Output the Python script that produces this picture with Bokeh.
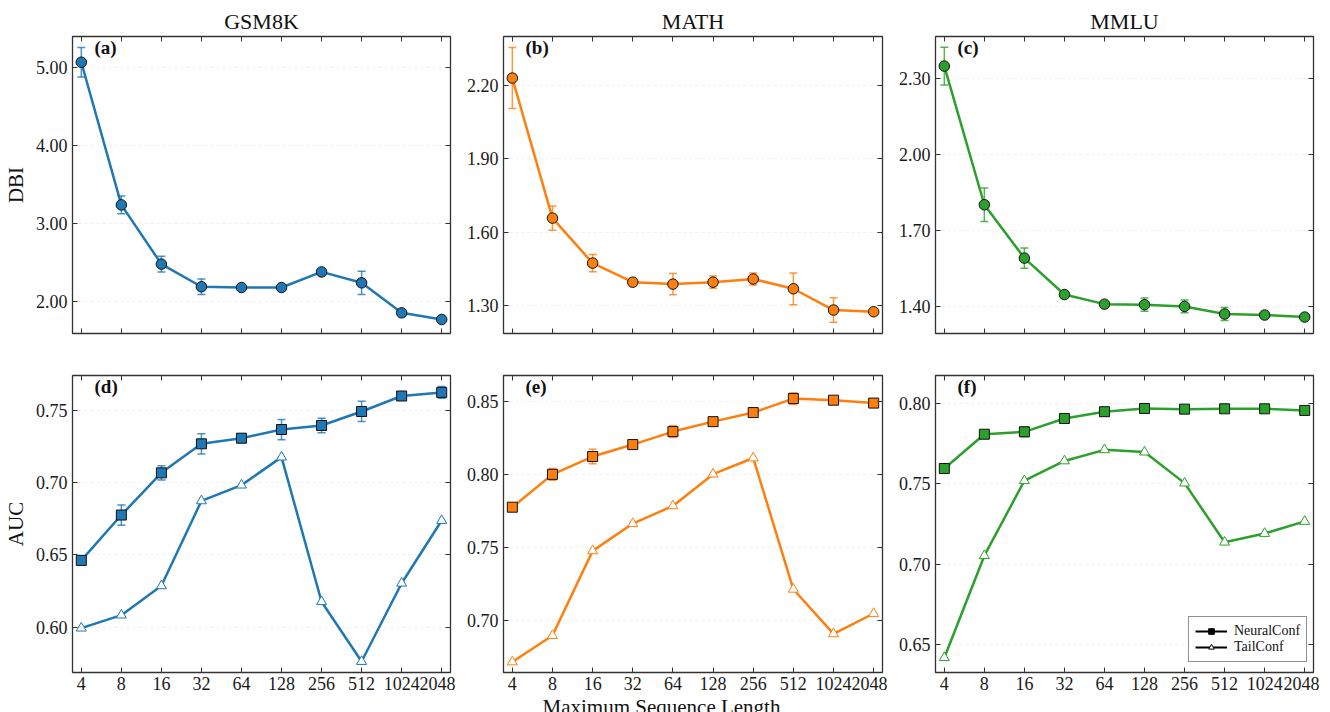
import math
from bokeh.plotting import figure
from bokeh.layouts import row, column
from bokeh.models import (Range1d, FixedTicker, LinearAxis, LogAxis, Label, Whisker, TeeHead, Title,
                          ColumnDataSource, Legend, LegendItem, PrintfTickFormatter)
from bokeh.embed import file_html
from bokeh.resources import INLINE

# ---------------- data ----------------
seq_lengths = [4, 8, 16, 32, 64, 128, 256, 512, 1024, 2048]
datasets = ["GSM8K", "MATH", "MMLU"]
colors = ["#1f77b4", "#ff7f0e", "#2ca02c"]
panel_tags_top = ["(a)", "(b)", "(c)"]
panel_tags_bottom = ["(d)", "(e)", "(f)"]

dbi_gsm8k = [5.07, 3.24, 2.48, 2.19, 2.18, 2.18, 2.38, 2.24, 1.855, 1.77]
dbi_gsm8k_err = [0.19, 0.115, 0.10, 0.10, 0.02, 0.04, 0.02, 0.15, 0.03, 0.01]
dbi_math = [2.23, 1.657, 1.473, 1.395, 1.387, 1.395, 1.408, 1.368, 1.281, 1.274]
dbi_math_err = [0.125, 0.05, 0.035, 0.016, 0.043, 0.025, 0.025, 0.065, 0.05, 0.008]
dbi_mmlu = [2.35, 1.802, 1.591, 1.447, 1.409, 1.407, 1.400, 1.370, 1.366, 1.358]
dbi_mmlu_err = [0.075, 0.066, 0.04, 0.012, 0.01, 0.026, 0.025, 0.026, 0.008, 0.006]

neural_gsm8k = [0.6462, 0.6776, 0.7068, 0.7269, 0.7308, 0.7368, 0.7396, 0.7493, 0.7600, 0.7625]
neural_gsm8k_err = [0.002, 0.007, 0.005, 0.007, 0.003, 0.007, 0.005, 0.007, 0.002, 0.004]
neural_math = [0.7774, 0.7999, 0.8121, 0.8203, 0.8292, 0.8360, 0.8422, 0.8518, 0.8507, 0.8487]
neural_math_err = [0.002, 0.004, 0.005, 0.002, 0.004, 0.002, 0.002, 0.004, 0.002, 0.002]
neural_mmlu = [0.7594, 0.7807, 0.7822, 0.7905, 0.7947, 0.7967, 0.7963, 0.7965, 0.7965, 0.7955]
neural_mmlu_err = [0.001, 0.002, 0.003, 0.002, 0.002, 0.002, 0.002, 0.002, 0.002, 0.002]

tail_gsm8k = [0.5993, 0.6083, 0.6286, 0.6874, 0.6983, 0.7177, 0.6176, 0.5762, 0.6304, 0.6738]
tail_math = [0.6714, 0.6895, 0.7475, 0.7662, 0.7783, 0.8000, 0.8111, 0.7212, 0.6907, 0.7046]
tail_mmlu = [0.6418, 0.7052, 0.7518, 0.7641, 0.7710, 0.7696, 0.7503, 0.7136, 0.7190, 0.7265]

dbi_yticks = [[2.0, 3.0, 4.0, 5.0], [1.3, 1.6, 1.9, 2.2], [1.4, 1.7, 2.0, 2.3]]
auc_yticks = [[0.60, 0.65, 0.70, 0.75], [0.70, 0.75, 0.80, 0.85], [0.65, 0.70, 0.75, 0.80]]
dbi_ylims = [(1.59, 5.40), (1.185, 2.40), (1.293, 2.467)]
auc_ylims = [(0.5686, 0.7742), (0.6642, 0.8676), (0.6326, 0.8172)]

FONT = "Liberation Serif"
PAD = 2 ** 0.22
XR = (seq_lengths[0] / PAD, seq_lengths[-1] * PAD)

frame_widths = [378, 379, 378]
left_borders = [72, 48, 48]
right_borders = [5, 5, 6]
NAN = float("nan")


def make_fig(col, r, yticks, ylim):
    p = figure(frame_width=frame_widths[col], frame_height=297,
               x_axis_type="log", x_range=Range1d(*XR), y_range=Range1d(*ylim),
               output_backend="svg", toolbar_location=None,
               min_border_left=left_borders[col], min_border_right=right_borders[col],
               min_border_top=36 if r == 0 else 32, min_border_bottom=10 if r == 0 else 40,
               background_fill_color="white", border_fill_color="white")
    p.outline_line_color = "#333333"
    p.outline_line_width = 1.3
    xax = p.xaxis[0]
    xax.ticker = FixedTicker(ticks=seq_lengths)
    xax.formatter = PrintfTickFormatter(format="%d")
    yax = p.yaxis[0]
    yax.ticker = FixedTicker(ticks=yticks)
    yax.formatter = PrintfTickFormatter(format="%.2f")
    for ax in (xax, yax):
        ax.axis_line_color = None
        ax.major_tick_in = 5
        ax.major_tick_out = 0
        ax.minor_tick_in = 0
        ax.minor_tick_out = 0
        ax.major_tick_line_color = "#333333"
        ax.major_label_text_font = FONT
        ax.major_label_text_font_size = "18px"
        ax.major_label_text_color = "#1a1a1a"
        ax.axis_label_text_font = FONT
        ax.axis_label_text_font_size = "21px"
        ax.axis_label_text_font_style = "normal"
        ax.axis_label_text_color = "#111111"
    yax.major_label_standoff = 5
    yax.axis_label_standoff = 5
    xax.major_label_standoff = 4
    if r == 0:
        xax.major_label_text_font_size = "0px"
        xax.major_label_standoff = 0
    top = LogAxis(ticker=FixedTicker(ticks=seq_lengths), major_label_text_font_size="0px",
                  major_label_standoff=0, major_tick_in=5, major_tick_out=0,
                  minor_tick_in=0, minor_tick_out=0, axis_line_color=None,
                  major_tick_line_color="#333333")
    right = LinearAxis(ticker=FixedTicker(ticks=yticks), major_label_text_font_size="0px",
                       major_label_standoff=0, major_tick_in=5, major_tick_out=0,
                       minor_tick_in=0, minor_tick_out=0, axis_line_color=None,
                       major_tick_line_color="#333333")
    p.add_layout(top, "above")
    p.add_layout(right, "right")
    p.xgrid.visible = False
    p.ygrid.grid_line_color = "#dddddd"
    p.ygrid.grid_line_dash = "3 3"
    p.ygrid.grid_line_width = 0.8
    p.ygrid.grid_line_alpha = 0.6
    return p


def add_errbars(p, vals, errs, color):
    src = ColumnDataSource(dict(x=seq_lengths,
                                upper=[v + e for v, e in zip(vals, errs)],
                                lower=[v - e for v, e in zip(vals, errs)]))
    w = Whisker(base="x", upper="upper", lower="lower", source=src, dimension="height",
                line_color=color, line_alpha=0.8, line_width=1.5,
                upper_head=TeeHead(size=8, line_color=color, line_alpha=0.8, line_width=1.5),
                lower_head=TeeHead(size=8, line_color=color, line_alpha=0.8, line_width=1.5))
    p.add_layout(w)


def add_tag(p, text, ylim):
    p.add_layout(Label(x=XR[0], y=ylim[1], x_offset=22, y_offset=0, text=text,
                       text_font=FONT, text_font_size="19px", text_font_style="bold",
                       text_align="left", text_baseline="top", text_color="#111111"))


dbi_vals = [dbi_gsm8k, dbi_math, dbi_mmlu]
dbi_errs = [dbi_gsm8k_err, dbi_math_err, dbi_mmlu_err]
neural_vals = [neural_gsm8k, neural_math, neural_mmlu]
neural_errs = [neural_gsm8k_err, neural_math_err, neural_mmlu_err]
tail_vals = [tail_gsm8k, tail_math, tail_mmlu]

top_figs = []
bottom_figs = []
for i in range(3):
    c = colors[i]
    # ---- top row: DBI ----
    p = make_fig(i, 0, dbi_yticks[i], dbi_ylims[i])
    p.title.text = datasets[i]
    p.title.align = "center"
    p.title.text_font = FONT
    p.title.text_font_size = "22px"
    p.title.text_font_style = "normal"
    p.title.text_color = "#111111"
    p.title.standoff = 5
    add_errbars(p, dbi_vals[i], dbi_errs[i], c)
    p.line(seq_lengths, dbi_vals[i], line_color=c, line_width=2.5)
    p.scatter(seq_lengths, dbi_vals[i], marker="circle", size=10.5, fill_color=c,
              line_color="#111111", line_width=1)
    add_tag(p, panel_tags_top[i], dbi_ylims[i])
    if i == 0:
        p.yaxis[0].axis_label = "DBI"
    top_figs.append(p)

    # ---- bottom row: AUC ----
    q = make_fig(i, 1, auc_yticks[i], auc_ylims[i])
    add_errbars(q, neural_vals[i], neural_errs[i], c)
    q.line(seq_lengths, tail_vals[i], line_color=c, line_width=2.5)
    q.scatter(seq_lengths, tail_vals[i], marker="triangle", size=10, fill_color="white",
              line_color=c, line_width=1)
    q.line(seq_lengths, neural_vals[i], line_color=c, line_width=2.5)
    q.scatter(seq_lengths, neural_vals[i], marker="square", size=10, fill_color=c,
              line_color="#111111", line_width=1)
    add_tag(q, panel_tags_bottom[i], auc_ylims[i])
    if i == 0:
        q.yaxis[0].axis_label = "AUC"
    if i == 1:
        q.add_layout(Title(text="Maximum Sequence Length", align="left", offset=39,
                           standoff=0, text_font=FONT, text_font_size="21px",
                           text_font_style="normal", text_color="#111111"), "below")
    if i == 2:
        l1 = q.line([NAN], [NAN], line_color="black", line_width=2)
        s1 = q.scatter([NAN], [NAN], marker="square", fill_color="black", line_color="black")
        l2 = q.line([NAN], [NAN], line_color="black", line_width=2)
        s2 = q.scatter([NAN], [NAN], marker="triangle", fill_color="white", line_color="black")
        legend = Legend(items=[LegendItem(label="NeuralConf", renderers=[l1, s1]),
                               LegendItem(label="TailConf", renderers=[l2, s2])],
                        location=(253, 10), orientation="vertical",
                        label_text_font=FONT, label_text_font_size="14px",
                        label_text_color="#111111",
                        glyph_width=32, glyph_height=14, label_height=14,
                        spacing=0, padding=6, margin=0, label_standoff=7,
                        border_line_color="#222222", border_line_width=1,
                        background_fill_color="white", background_fill_alpha=1.0)
        q.add_layout(legend)
    bottom_figs.append(q)

layout = column(row(*top_figs), row(*bottom_figs))
open("out.html", "w").write(file_html(layout, INLINE))
